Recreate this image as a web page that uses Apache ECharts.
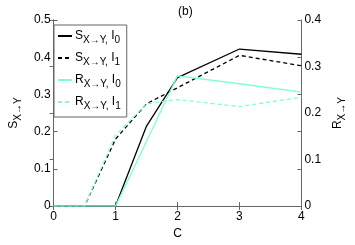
<!DOCTYPE html>
<html>
<head>
<meta charset="utf-8">
<script src="https://cdn.jsdelivr.net/npm/echarts@6/dist/echarts.min.js"></script>
<style>
html,body{margin:0;padding:0;background:#fff;}
#c{width:355px;height:245px;}
</style>
</head>
<body>
<div id="c"></div>
<script>
// Data
var C = [0, 0.5, 1, 1.5, 2, 3, 4];
var S_I0 = [0, 0, 0, 0.215, 0.345, 0.422, 0.408];
var S_I1 = [0, 0, 0.18, 0.275, 0.318, 0.405, 0.377];
var R_I0 = [0, 0, 0, 0.139, 0.28, 0.263, 0.245];
var R_I1 = [0, 0, 0.152, 0.22, 0.229, 0.214, 0.234];
var xTicks = [0, 1, 2, 3, 4];
var leftTicks = [0, 0.1, 0.2, 0.3, 0.4, 0.5];
var rightTicks = [0, 0.1, 0.2, 0.3, 0.4];

var FONT = '"Liberation Sans", Arial, Helvetica, sans-serif';
var AXC = '#666';
var CYAN = '#7FFFD4';

function pairs(xs, ys) { return xs.map(function (x, i) { return [x, ys[i]]; }); }

var legendText = {
  'S_I0': '{m|S}{s|X\u2192Y,}{m| I}{s|0}',
  'S_I1': '{m|S}{s|X\u2192Y,}{m| I}{s|1}',
  'R_I0': '{m|R}{s|X\u2192Y,}{m| I}{s|0}',
  'R_I1': '{m|R}{s|X\u2192Y,}{m| I}{s|1}'
};

var richSub = {
  m: { fontSize: 12, fontFamily: FONT, color: '#000', lineHeight: 17 },
  s: { fontSize: 10, fontFamily: FONT, color: '#000', padding: [8, 0, 0, 0] }
};

function axisBase(extra) {
  var o = {
    type: 'value',
    axisLine: { show: true, lineStyle: { color: AXC, width: 1 } },
    axisTick: { show: true, inside: true, length: 4, lineStyle: { color: AXC } },
    splitLine: { show: false },
    axisLabel: { fontSize: 12, fontFamily: FONT, color: '#000' }
  };
  for (var k in extra) o[k] = extra[k];
  return o;
}

var chart = echarts.init(document.getElementById('c'), null, { renderer: 'canvas' });
chart.setOption({
  animation: false,
  backgroundColor: '#fff',
  title: {
    text: '(b)', left: 173, top: 1,
    textStyle: { fontSize: 12, fontWeight: 'normal', fontFamily: FONT, color: '#000' }
  },
  grid: { left: 43, right: 36, top: 20, bottom: 28, containLabel: false },
  legend: {
    orient: 'vertical', left: 54, top: 25,
    padding: [5, 6, 6, 3], itemGap: 7,
    itemWidth: 14, itemHeight: 10,
    borderColor: AXC, borderWidth: 1, backgroundColor: '#fff',
    itemStyle: { color: 'rgba(0,0,0,0)', borderWidth: 0, opacity: 0 },
    data: ['S_I0', 'S_I1', 'R_I0', 'R_I1'],
    formatter: function (n) { return legendText[n]; },
    textStyle: { fontFamily: FONT, fontSize: 12, color: '#000', padding: [0, 0, 0, -2], rich: richSub }
  },
  xAxis: [
    axisBase({
      position: 'bottom', min: xTicks[0], max: xTicks[xTicks.length - 1], interval: 1,
      name: 'C', nameLocation: 'middle', nameGap: 19,
      nameTextStyle: { fontSize: 12, fontFamily: FONT, color: '#000' },
      axisLabel: { fontSize: 12, fontFamily: FONT, color: '#000', margin: 5 }
    }),
    axisBase({
      position: 'top', min: xTicks[0], max: xTicks[xTicks.length - 1], interval: 1,
      axisLabel: { show: false }
    })
  ],
  yAxis: [
    axisBase({
      position: 'left', min: leftTicks[0], max: leftTicks[leftTicks.length - 1], interval: 0.1,
      name: '{m|S}{s|X\u2192Y}', nameLocation: 'middle', nameGap: 30, nameRotate: 90,
      nameTextStyle: { rich: richSub },
      axisLabel: { fontSize: 12, fontFamily: FONT, color: '#000', margin: 3 }
    }),
    axisBase({
      position: 'right', min: rightTicks[0], max: rightTicks[rightTicks.length - 1], interval: 0.1,
      name: '{m|R}{s|X\u2192Y}', nameLocation: 'middle', nameGap: 26, nameRotate: 90,
      nameTextStyle: { rich: richSub },
      axisLabel: { fontSize: 12, fontFamily: FONT, color: '#000', margin: 3 }
    }),
    axisBase({
      position: 'right', offset: 0, min: leftTicks[0], max: leftTicks[leftTicks.length - 1], interval: 0.1,
      axisLabel: { show: false }
    })
  ],
  series: [
    { name: 'S_I0', type: 'line', xAxisIndex: 0, yAxisIndex: 0, data: pairs(C, S_I0),
      symbol: 'none', lineStyle: { color: '#000', width: 1.3, type: 'solid' }, itemStyle: { color: '#000' } },
    { name: 'S_I1', type: 'line', xAxisIndex: 0, yAxisIndex: 0, data: pairs(C, S_I1),
      symbol: 'none', lineStyle: { color: '#000', width: 1.3, type: [4, 3] }, itemStyle: { color: '#000' } },
    { name: 'R_I0', type: 'line', xAxisIndex: 0, yAxisIndex: 1, data: pairs(C, R_I0),
      symbol: 'none', lineStyle: { color: CYAN, width: 1.3, type: 'solid' }, itemStyle: { color: CYAN } },
    { name: 'R_I1', type: 'line', xAxisIndex: 0, yAxisIndex: 1, data: pairs(C, R_I1),
      symbol: 'none', lineStyle: { color: CYAN, width: 1.3, type: [4, 3] }, itemStyle: { color: CYAN } }
  ]
});
</script>
</body>
</html>
